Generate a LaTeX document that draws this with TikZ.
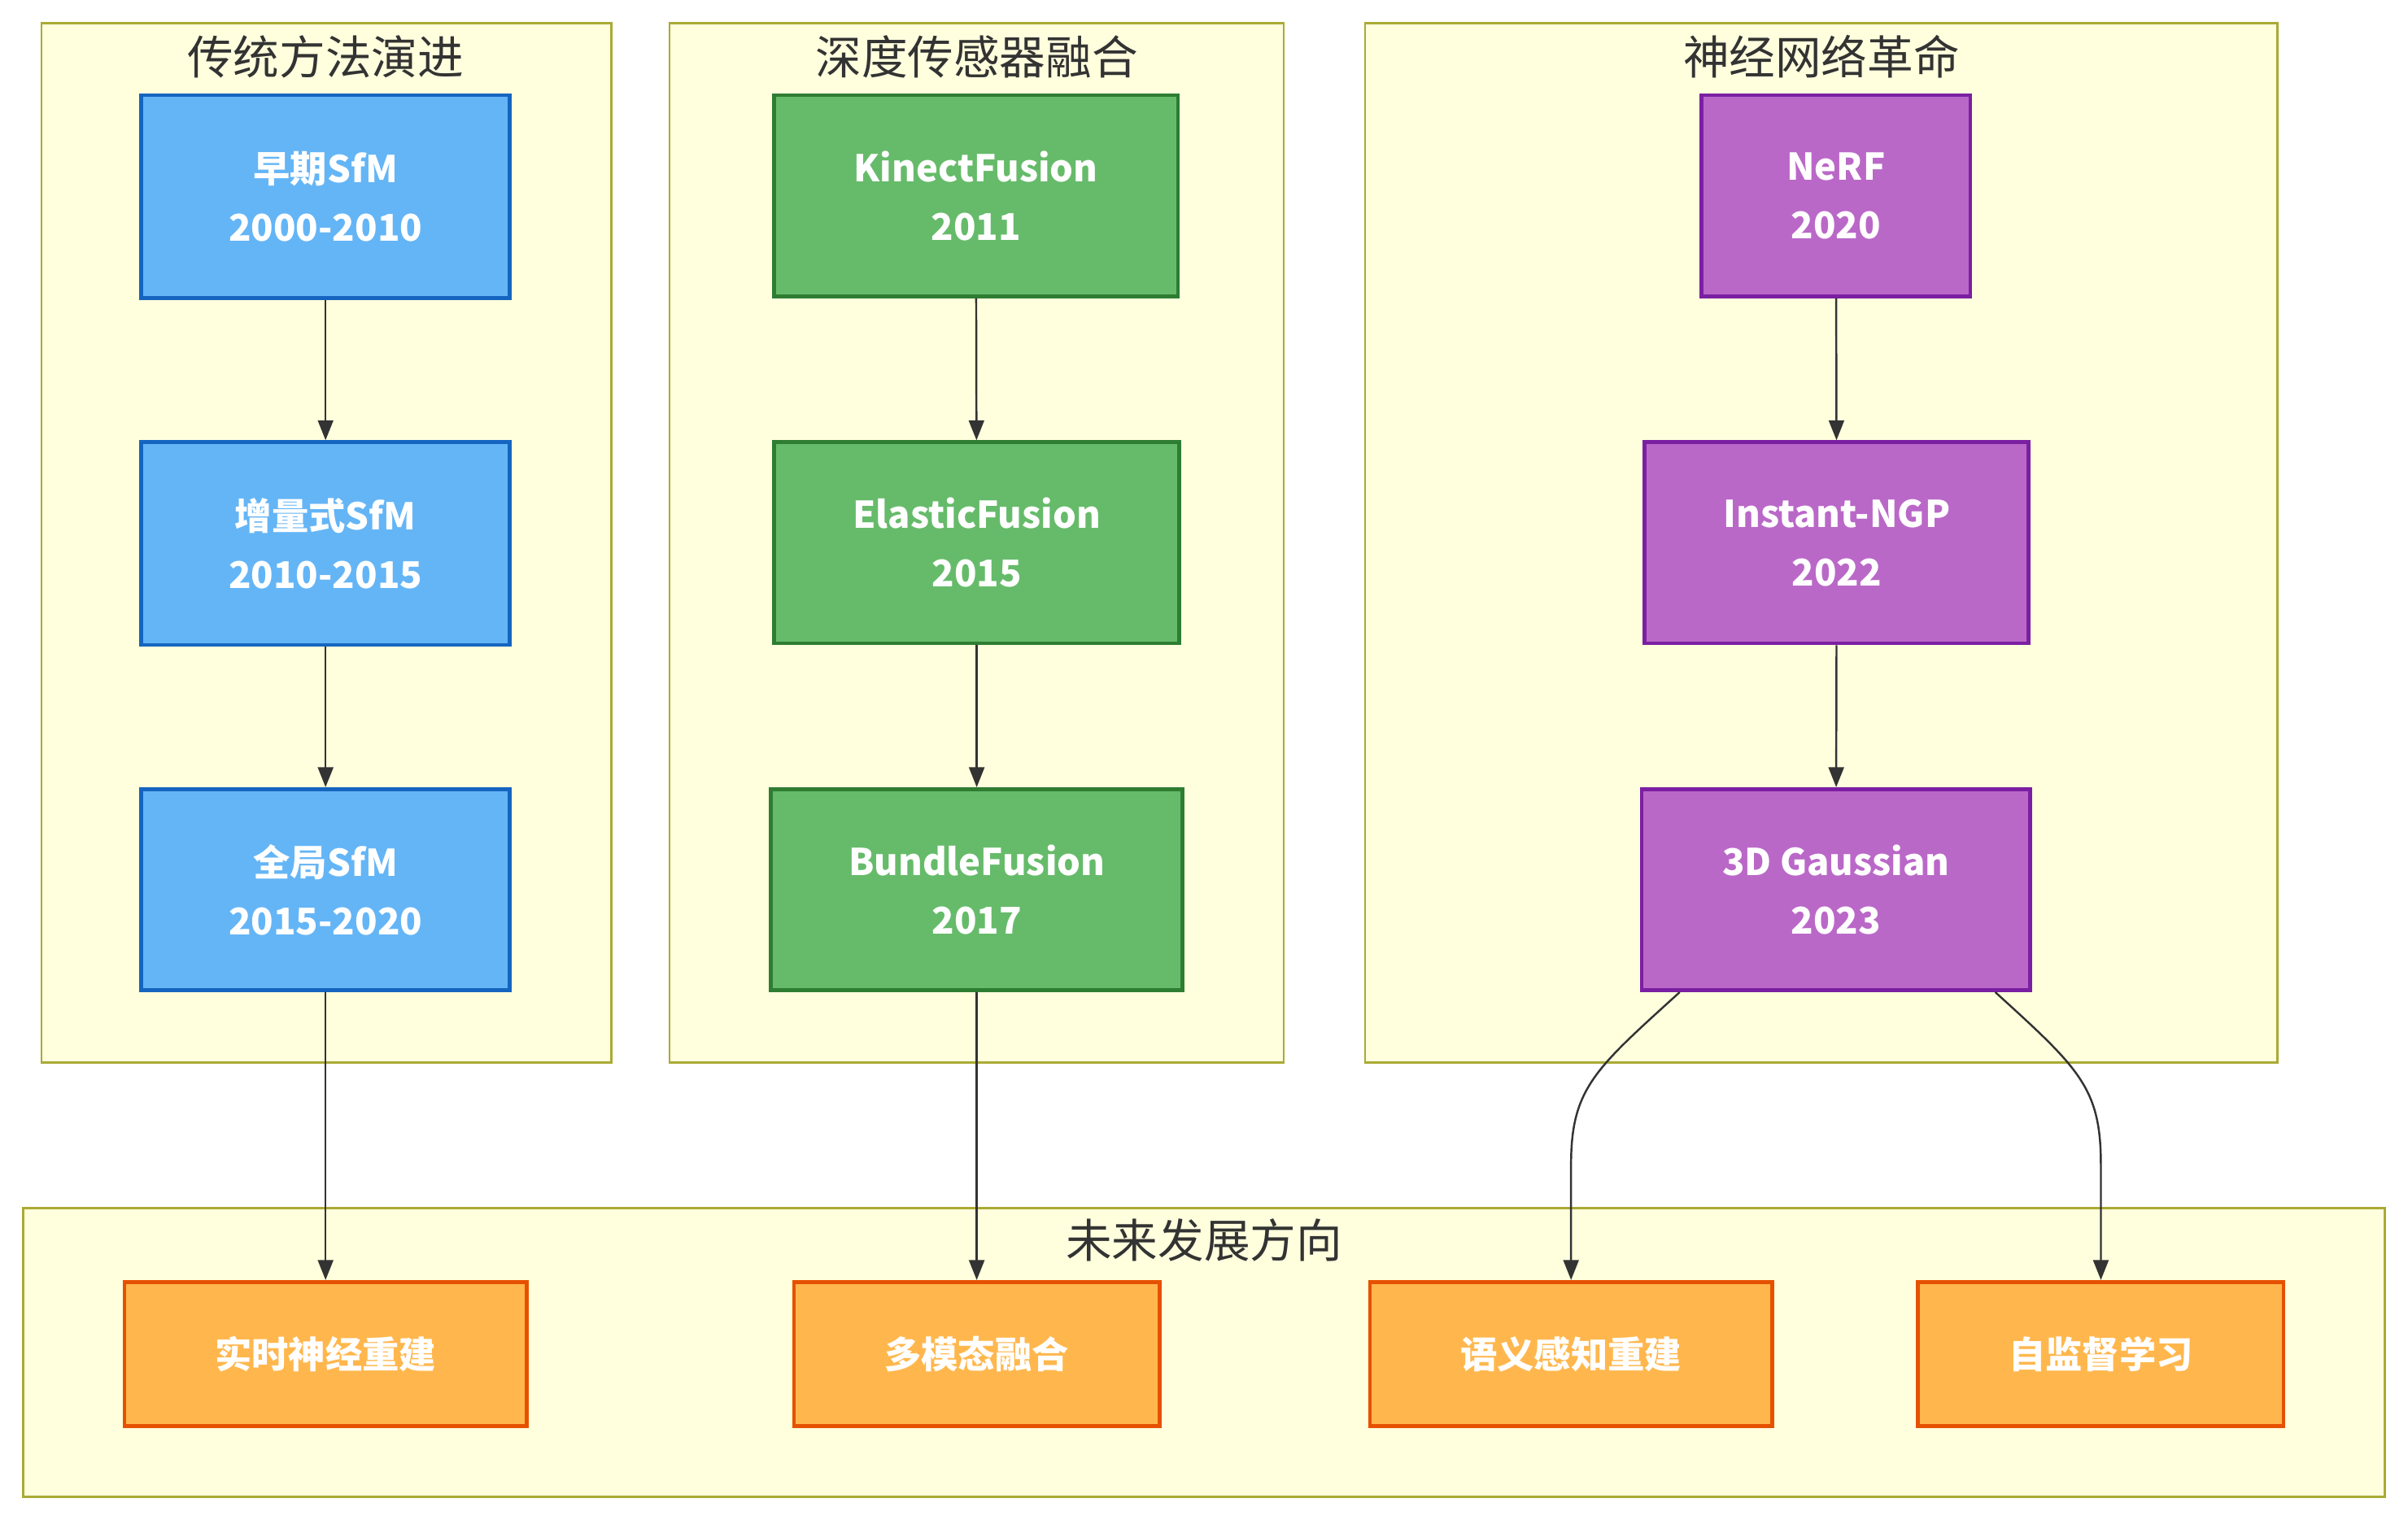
\documentclass[tikz,border=0pt]{standalone}
\usepackage{fontspec}
\setmainfont{Noto Sans CJK SC}
\newfontfamily\cjk{Noto Sans CJK SC}
\usetikzlibrary{arrows.meta,calc}
\definecolor{clfill}{HTML}{FFFFDE}
\definecolor{clline}{HTML}{AAAA33}
\definecolor{bluefill}{HTML}{64B5F6}
\definecolor{blueline}{HTML}{1565C0}
\definecolor{greenfill}{HTML}{66BB6A}
\definecolor{greenline}{HTML}{2E7D32}
\definecolor{purpfill}{HTML}{BA68C8}
\definecolor{purpline}{HTML}{7B1FA2}
\definecolor{orgfill}{HTML}{FFB74D}
\definecolor{orgline}{HTML}{E65100}
\definecolor{ink}{HTML}{333333}
\tikzset{
  cluster/.style={draw=clline, fill=clfill, line width=1.3pt},
  cltitle/.style={text=ink, font=\cjk\fontsize{30}{34}\selectfont, inner sep=0pt, anchor=center},
  box/.style={rectangle, line width=2.5pt, inner sep=0pt, align=center, text=white,
    font=\bfseries\fontsize{24}{38}\selectfont},
  bluebox/.style={box, draw=blueline, fill=bluefill},
  greenbox/.style={box, draw=greenline, fill=greenfill},
  purpbox/.style={box, draw=purpline, fill=purpfill},
  orgbox/.style={box, draw=orgline, fill=orgfill},
  flow/.style={draw=ink, line width=1.3pt, -{Triangle[length=13pt,width=10pt]}},
}
\newcommand{\zh}[1]{{\cjk\bfseries #1}}
% place a box by its pixel corners: x0,y0,x1,y1
\newcommand{\boxat}[7]{%
  \node[#1, minimum width={#4-#2}, minimum height={#5-#3}] (#6) at ({(#2+#4)/2},{(#3+#5)/2}) {#7};}
\begin{document}
\begin{tikzpicture}[x=1pt, y=-1pt]
\useasboundingbox[fill=white] (0,0) rectangle (1568,990);

% group frames
\draw[cluster] (27,15) rectangle (398,692);
\draw[cluster] (436,15) rectangle (836,692);
\draw[cluster] (889,15) rectangle (1483,692);
\draw[cluster] (15,787) rectangle (1553,975);

\node[cltitle] (t1) at (212,37) {传统方法演进};
\node[cltitle] (t2) at (636,37) {深度传感器融合};
\node[cltitle] (t3) at (1186,37) {神经网络革命};
\node[cltitle] (t4) at (784,808) {未来发展方向};

% traditional pipeline
\boxat{bluebox}{92}{62}{332}{194}{a1}{早期SfM\\2000-2010}
\boxat{bluebox}{92}{288}{332}{420}{a2}{增量式SfM\\2010-2015}
\boxat{bluebox}{92}{514}{332}{645}{a3}{全局SfM\\2015-2020}

% depth sensor fusion
\boxat{greenbox}{504}{62}{767}{193}{b1}{KinectFusion\\2011}
\boxat{greenbox}{504}{288}{768}{419}{b2}{ElasticFusion\\2015}
\boxat{greenbox}{502}{514}{770}{645}{b3}{BundleFusion\\2017}

% neural methods
\boxat{purpbox}{1108}{62}{1283}{193}{c1}{NeRF\\2020}
\boxat{purpbox}{1071}{288}{1321}{419}{c2}{Instant-NGP\\2022}
\boxat{purpbox}{1069}{514}{1322}{645}{c3}{3D Gaussian\\2023}

% future directions
\boxat{orgbox}{81}{835}{343}{929}{d1}{实时神经重建}
\boxat{orgbox}{517}{835}{755}{929}{d2}{多模态融合}
\boxat{orgbox}{892}{835}{1154}{929}{d3}{语义感知重建}
\boxat{orgbox}{1249}{835}{1487}{929}{d4}{自监督学习}

% connectors
\draw[flow] (a1) -- (a2);
\draw[flow] (a2) -- (a3);
\draw[flow] (a3) -- (d1);
\draw[flow] (b1) -- (b2);
\draw[flow] (b2) -- (b3);
\draw[flow] (b3) -- (d2);
\draw[flow] (c1) -- (c2);
\draw[flow] (c2) -- (c3);
\coordinate (c3l) at ($(c3.south west)+(26,0)$);
\coordinate (c3r) at ($(c3.south east)+(-24,0)$);
\draw[flow] (c3l) .. controls ($(c3l)+(-55,50)$) and ($(d3.north)+(0,-125)$) .. ($(d3.north)+(0,-75)$) -- (d3.north);
\draw[flow] (c3r) .. controls ($(c3r)+(55,50)$) and ($(d4.north)+(0,-125)$) .. ($(d4.north)+(0,-75)$) -- (d4.north);
\end{tikzpicture}
\end{document}
